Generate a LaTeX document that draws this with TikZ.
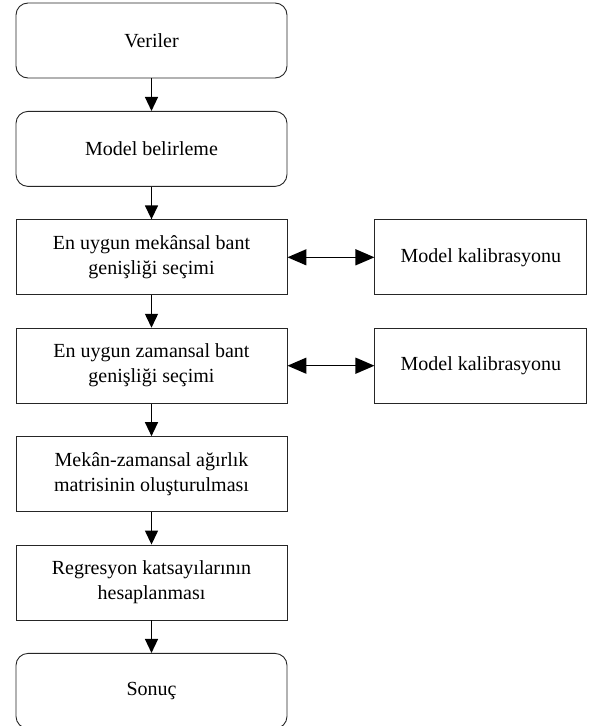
\documentclass[tikz,border=0pt]{standalone}
\usepackage{fontspec}
\setmainfont{Liberation Serif}
\usepackage{tikz}
\usetikzlibrary{arrows.meta,positioning}
\tikzset{
  endbox/.style={rounded corners=12pt, draw=black!85, line width=0.9pt, fill=white, align=center, minimum height=75pt, minimum width=271pt, font=\fontsize{20}{25}\selectfont},
  stepbox/.style={draw=black!85, line width=0.9pt, fill=white, align=center, minimum height=75pt, minimum width=271pt, font=\fontsize{20}{25}\selectfont},
  calbox/.style={draw=black!85, line width=0.9pt, fill=white, align=center, minimum height=75pt, minimum width=212pt, font=\fontsize{20}{25}\selectfont},
  arrow/.style={-{Triangle[length=14pt,width=13pt]}, line width=1.4pt, draw=black},
  biarrow/.style={{Triangle[length=19pt,width=16pt]}-{Triangle[length=19pt,width=16pt]}, line width=1.4pt, draw=black}
}
\begin{document}
\begin{tikzpicture}[node distance=32.5pt and 87pt]
  \useasboundingbox (0,0) rectangle (595pt,-726pt);
  \node[endbox] at (151.5pt,-40.5pt) (veri) {Veriler};
  \node[endbox, below=of veri] (model) {Model belirleme};
  \node[stepbox, below=of model] (mekan) {En uygun mekânsal bant\\genişliği seçimi};
  \node[stepbox, below=of mekan] (zaman) {En uygun zamansal bant\\genişliği seçimi};
  \node[stepbox, below=of zaman] (agirlik) {Mekân-zamansal ağırlık\\matrisinin oluşturulması};
  \node[stepbox, below=of agirlik] (regres) {Regresyon katsayılarının\\hesaplanması};
  \node[endbox, below=of regres] (sonuc) {Sonuç};
  \node[calbox, right=of mekan] (kalib1) {Model kalibrasyonu};
  \node[calbox, right=of zaman] (kalib2) {Model kalibrasyonu};

  \draw[arrow] (veri) -- (model);
  \draw[arrow] (model) -- (mekan);
  \draw[arrow] (mekan) -- (zaman);
  \draw[arrow] (zaman) -- (agirlik);
  \draw[arrow] (agirlik) -- (regres);
  \draw[arrow] (regres) -- (sonuc);
  \draw[biarrow] (mekan) -- (kalib1);
  \draw[biarrow] (zaman) -- (kalib2);
\end{tikzpicture}
\end{document}
